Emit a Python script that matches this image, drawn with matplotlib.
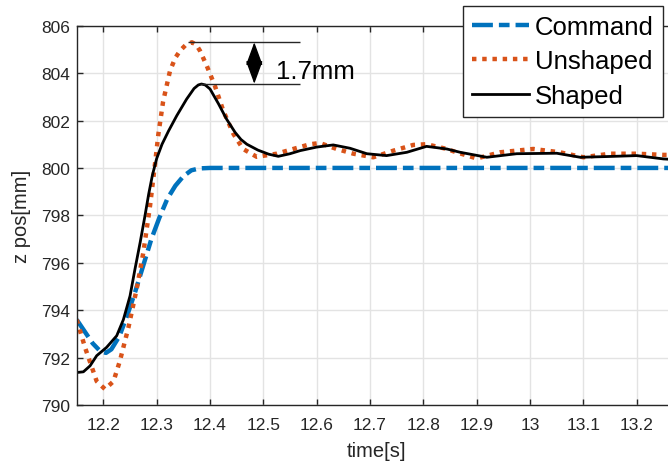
import matplotlib
matplotlib.use('Agg')
import matplotlib.pyplot as plt
from matplotlib.patches import ArrowStyle

plt.rcParams['font.family'] = ['Liberation Sans', 'DejaVu Sans']

# Command trajectory
t_cmd = [12.150, 12.165, 12.180, 12.195, 12.205, 12.215, 12.230, 12.245, 12.260,
         12.275, 12.290, 12.305, 12.320, 12.335, 12.350, 12.365, 12.380, 12.400, 13.300]
z_cmd = [793.6, 793.1, 792.6, 792.25, 792.2, 792.35, 792.9, 793.8, 794.8,
         795.9, 797.0, 797.9, 798.7, 799.25, 799.65, 799.9, 799.98, 800.0, 800.0]

# Unshaped response
t_uns = [12.150, 12.166, 12.1875, 12.203, 12.219, 12.231, 12.247, 12.2625, 12.275,
         12.2875, 12.297, 12.303, 12.312, 12.325, 12.335, 12.344, 12.355, 12.366,
         12.374, 12.381, 12.394, 12.409, 12.425, 12.444, 12.462, 12.4875, 12.525,
         12.556, 12.5875, 12.606, 12.6375, 12.669, 12.706, 12.744, 12.781, 12.806,
         12.844, 12.862, 12.900, 12.944, 13.006, 13.056, 13.100, 13.150, 13.200,
         13.250, 13.275]
z_uns = [793.6, 792.4, 791.0, 790.67, 791.0, 791.86, 793.27, 794.9, 796.44,
         798.4, 800.2, 801.4, 802.8, 804.1, 804.65, 804.95, 805.2, 805.3,
         805.2, 804.95, 804.3, 803.47, 802.4, 801.43, 800.8, 800.47, 800.6,
         800.8, 801.0, 801.05, 800.8, 800.6, 800.45, 800.73, 800.97, 801.0,
         800.8, 800.66, 800.4, 800.66, 800.8, 800.66, 800.45, 800.6, 800.6,
         800.55, 800.55]

# Shaped response
t_shp = [12.150, 12.1625, 12.175, 12.1875, 12.206, 12.225, 12.2375, 12.250, 12.259,
         12.269, 12.278, 12.285, 12.292, 12.300, 12.310, 12.322, 12.3375, 12.356,
         12.370, 12.378, 12.384, 12.391, 12.400, 12.416, 12.431, 12.447, 12.458,
         12.469, 12.490, 12.510, 12.528, 12.550, 12.569, 12.600, 12.631, 12.6625,
         12.694, 12.731, 12.769, 12.806, 12.844, 12.869, 12.919, 12.975, 13.050,
         13.094, 13.144, 13.200, 13.250, 13.275]
z_shp = [791.37, 791.4, 791.65, 792.08, 792.43, 792.92, 793.6, 794.6, 795.7,
         796.86, 797.98, 798.9, 799.7, 800.4, 801.0, 801.55, 802.2, 802.9,
         803.35, 803.5, 803.54, 803.5, 803.33, 802.7, 802.06, 801.5, 801.2,
         801.0, 800.75, 800.58, 800.49, 800.6, 800.73, 800.88, 800.97, 800.83,
         800.6, 800.52, 800.66, 800.91, 800.8, 800.66, 800.45, 800.6, 800.62,
         800.45, 800.48, 800.52, 800.38, 800.35]

# Overshoot annotation
peak_uns = 805.3
peak_shp = 803.55
arrow_t = 12.483
label_text = '1.7mm'

blue = '#0072BD'
orange = '#D95319'
dark = '#262626'

fig = plt.figure(figsize=(6.68, 4.64), dpi=100)
ax = fig.add_axes([76.7 / 668, 58 / 464, 600 / 668, 379.3 / 464])

ax.plot(t_cmd, z_cmd, color=blue, lw=3.2, dash_capstyle='butt',
        linestyle=(0, (4.7, 1.35, 2.4, 1.35)), label='Command')
ax.plot(t_uns, z_uns, color=orange, lw=3.2, dash_capstyle='butt',
        linestyle=(0, (1.0, 1.3)), label='Unshaped')
ax.plot(t_shp, z_shp, color='black', lw=2.0, label='Shaped')

ax.hlines(peak_uns, 12.359, 12.569, color=dark, lw=1.0)
ax.hlines(peak_shp, 12.381, 12.569, color=dark, lw=1.0)
ax.annotate('', xy=(arrow_t, peak_uns), xytext=(arrow_t, peak_shp),
            arrowprops=dict(arrowstyle=ArrowStyle('<|-|>', head_length=0.9, head_width=0.33),
                            mutation_scale=16, color='black', lw=1.0,
                            shrinkA=0, shrinkB=0))
ax.text(12.524, 804.09, label_text, fontsize=18.5, ha='left', va='center', color='black')

ax.set_xlim(12.15, 13.275)
ax.set_ylim(790, 806)
ax.set_xticks([12.2, 12.3, 12.4, 12.5, 12.6, 12.7, 12.8, 12.9, 13.0, 13.1, 13.2])
ax.set_xticklabels(['12.2', '12.3', '12.4', '12.5', '12.6', '12.7', '12.8', '12.9', '13', '13.1', '13.2'])
ax.set_yticks(range(790, 807, 2))
ax.grid(True, color='#e3e3e3', lw=1.0)
ax.set_axisbelow(True)
ax.tick_params(direction='in', length=4.5, width=1.0, color=dark, labelcolor=dark,
               labelsize=12.5, top=True, right=False)
ax.tick_params(axis='x', pad=9)
ax.tick_params(axis='y', pad=5)
for s in ['left', 'bottom', 'top']:
    ax.spines[s].set_color(dark)
    ax.spines[s].set_linewidth(1.0)
ax.spines['right'].set_visible(False)

ax.set_xlabel('time[s]', fontsize=14.5, color=dark, labelpad=6)
ax.set_ylabel('z pos[mm]', fontsize=14.5, color=dark, labelpad=7)

leg = ax.legend(loc='upper right', bbox_to_anchor=(663 / 668, 1 - 7 / 464),
                bbox_transform=fig.transFigure, fontsize=18.5, frameon=True, fancybox=False,
                borderaxespad=0, handlelength=2.2, handletextpad=0.25,
                labelspacing=0.4, borderpad=0.35)
leg.get_frame().set_edgecolor(dark)
leg.get_frame().set_linewidth(1.0)
leg.get_frame().set_alpha(1.0)

fig.savefig('out.png', dpi=100)
